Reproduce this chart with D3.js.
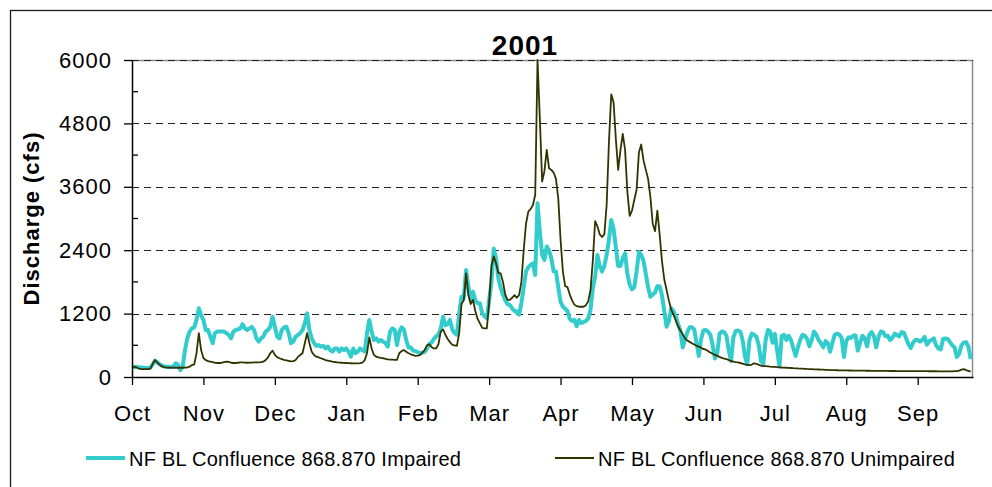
<!DOCTYPE html>
<html>
<head>
<meta charset="utf-8">
<script src="https://cdn.jsdelivr.net/npm/d3@7"></script>
<style>
  body { margin: 0; background: #fff; }
  svg { display: block; font-family: Arial, "Liberation Sans", sans-serif; }
</style>
</head>
<body>
<div id="my_dataviz"></div>
<script>

// daily discharge (cfs), one value per day starting 1 Oct 2000
var impaired = [
  // Oct
  190,195,190,185,180,175,170,170,180,240, 310,280,240,215,200,195,190,190,200,260, 230,130,200,510,730,860,920,940,1080,1300, 1170,
  // Nov
  1080,890,890,765,640,830,860,860,860,860, 830,795,730,860,890,900,920,1000,920,890, 920,950,890,730,670,730,765,860,890,950,
  // Dec
  1140,950,765,730,890,940,950,830,640,670, 765,795,830,890,1015,1205,890,730,640,590, 605,575,590,540,575,510,480,540,540,480, 540,
  // Jan
  510,540,480,385,540,450,480,540,510,480, 830,1080,860,700,730,670,700,670,640,575, 860,920,890,605,850,940,900,700,560,560, 500,
  // Feb
  490,470,450,460,470,540,620,650,720,770, 800,920,1140,980,1000,1080,900,830,800,1200, 1520,1500,2025,1710,1450,1615,1450,1395,
  // Mar
  1395,1205,1150,1110,1450,1800,2430,2250,1870,1690, 1560,1450,1380,1360,1300,1250,1240,1180,1400,1700, 1995,2080,2120,2150,1930,3290,2750,2310,2215,2470, 2400,
  // Apr
  2245,2000,1995,1700,1420,1330,1290,1250,1100,1060, 1080,960,1080,1020,1040,1060,1110,1270,1680,1900, 2310,2100,1995,2100,2310,2600,2970,2800,2450,2100,
  // May
  2100,2250,2340,1950,1750,1660,1700,2000,2370,2310, 2200,1950,1700,1520,1560,1600,1720,1720,1550,1250, 950,1050,1300,1250,1150,1000,880,560,700,850, 940,
  // Jun
  940,900,650,400,720,880,890,860,800,600, 350,450,820,860,850,780,500,300,750,870, 880,860,700,400,240,700,820,800,760,600,
  // Jul
  300,250,700,890,860,650,820,500,200,780, 800,700,780,700,550,400,560,700,800,780, 720,580,700,860,800,700,640,560,680,640, 480,
  // Aug
  650,800,820,800,740,380,680,750,740,780, 790,500,650,780,730,580,800,850,770,560, 760,860,850,770,780,700,740,820,790,770, 850,
  // Sep
  840,730,620,550,650,700,700,670,700,760, 610,680,700,730,600,540,520,720,730,720, 660,600,560,380,440,600,650,660,580,340
];

var unimpaired = [
  // Oct
  195,190,180,160,150,150,150,150,160,250, 320,270,230,200,185,180,178,176,175,175, 175,175,175,178,180,195,225,240,450,830, 510,
  // Nov
  360,320,300,290,280,270,265,265,270,280, 290,285,270,265,265,270,275,275,272,270, 272,272,275,275,278,280,290,320,370,450,
  // Dec
  500,420,375,355,340,325,315,305,295,300, 320,380,415,450,640,830,640,480,415,385, 370,355,340,320,310,300,290,284,278,272, 270,
  // Jan
  268,265,262,260,258,258,258,262,270,320, 450,750,540,415,385,370,360,355,345,335, 330,330,325,325,450,490,510,480,450,430, 415,
  // Feb
  400,405,415,460,510,600,620,570,540,540, 620,860,900,800,720,660,610,600,590,830, 1380,1450,1960,1550,1380,1460,1250,1100,
  // Mar
  1015,930,920,920,1400,2100,2280,2150,1970,1960, 1800,1560,1460,1460,1500,1550,1500,1550,1800,2400, 2900,3130,3180,3250,3450,6000,4900,3700,3900,4300, 3950,
  // Apr
  3920,3870,3750,3380,2600,2000,1720,1700,1560,1450, 1370,1340,1330,1330,1330,1360,1430,1650,2200,2950, 2850,2700,2650,2700,3255,4450,5350,5200,4500,3920,
  // May
  4300,4600,4300,3500,3050,3150,3350,3550,4250,4400, 4100,3920,3750,3400,2900,2760,3150,2700,2200,1850, 1650,1450,1280,1180,1070,960,880,810,730,690, 665,
  // Jun
  640,615,590,575,555,530,520,490,465,440, 420,400,380,360,350,340,320,305,290,280, 275,265,255,240,230,225,235,260,250,230,
  // Jul
  215,208,204,200,196,193,190,186,183,180, 178,175,172,170,167,165,162,160,158,155, 152,150,148,146,144,142,140,138,136,134, 132,
  // Aug
  130,129,128,127,126,125,124,123,123,122, 121,120,120,119,119,118,118,117,117,116, 116,116,115,115,115,114,114,114,113,113, 113,
  // Sep
  113,112,112,112,111,111,111,110,110,110, 110,109,109,109,109,108,108,108,108,108, 108,108,110,112,120,140,150,130,115,100
];

var monthLabels = ["Oct","Nov","Dec","Jan","Feb","Mar","Apr","May","Jun","Jul","Aug","Sep"];
var yTicks = [0, 1200, 2400, 3600, 4800, 6000];
var yMinorTicks = [600, 1800, 3000, 4200, 5400];
var seriesNames = ["NF BL Confluence 868.870 Impaired", "NF BL Confluence 868.870 Unimpaired"];
var seriesColors = ["#33cccc", "#333300"];

// set the dimensions and margins of the graph
var margin = {top: 60, right: 19, bottom: 110, left: 132},
  width = 992 - margin.left - margin.right,
  height = 487 - margin.top - margin.bottom;

var root = d3.select("#my_dataviz")
.append("svg")
  .attr("width", 992)
  .attr("height", 487);

// outer chart border
root.append("rect")
  .attr("x", 10.5)
  .attr("y", 10.5)
  .attr("width", 1000)
  .attr("height", 500)
  .style("fill", "none")
  .style("stroke", "#1a1a1a")
  .style("stroke-width", 1.3);

var svg = root.append("g")
  .attr("transform", "translate(" + margin.left + "," + margin.top + ")");

// scales: x is day of the water year, ticks every 31 days
var x = d3.scaleLinear()
  .domain([0, 365])
  .range([0, width]);
var y = d3.scaleLinear()
  .domain([0, 6000])
  .range([height, 0]);

// plot frame (top + right) in grey
svg.append("path")
  .attr("d", "M0,0.5H" + (width - 0.5) + "V" + height)
  .style("fill", "none")
  .style("stroke", "#8c8c8c")
  .style("stroke-width", 1.5);

// dashed gridlines
svg.selectAll(".grid")
  .data(yTicks.filter(function(d) { return d > 0; }))
  .enter()
  .append("line")
    .attr("x1", 0)
    .attr("x2", width)
    .attr("y1", function(d) { return Math.round(y(d)) + 0.5; })
    .attr("y2", function(d) { return Math.round(y(d)) + 0.5; })
    .style("stroke", "#222")
    .style("stroke-width", 1)
    .style("stroke-dasharray", "7,5");

// series lines
var line = d3.line()
  .x(function(d, i) { return x(i); })
  .y(function(d) { return y(d); });

svg.append("path")
  .datum(impaired)
  .attr("d", line)
  .style("fill", "none")
  .style("stroke", seriesColors[0])
  .style("stroke-width", 4)
  .style("stroke-linejoin", "round");

svg.append("path")
  .datum(unimpaired)
  .attr("d", line)
  .style("fill", "none")
  .style("stroke", seriesColors[1])
  .style("stroke-width", 1.8)
  .style("stroke-linejoin", "round");

// Y axis
var yAxis = svg.append("g")
  .style("font-size", "22px")
  .style("font-family", "Arial, 'Liberation Sans', sans-serif")
  .call(d3.axisLeft(y).tickValues(yTicks).tickFormat(d3.format("d"))
    .tickSize(8).tickSizeOuter(0).tickPadding(12));
yAxis.selectAll("text").style("letter-spacing", "1px").style("fill", "#000");
yAxis.selectAll("line").style("stroke", "#000").style("stroke-width", 1.3);
yAxis.select(".domain").style("stroke", "#000").style("stroke-width", 1.5);

// minor ticks pointing inward
svg.selectAll(".minor")
  .data(yMinorTicks)
  .enter()
  .append("line")
    .attr("x1", 0)
    .attr("x2", 6)
    .attr("y1", function(d) { return y(d); })
    .attr("y2", function(d) { return y(d); })
    .style("stroke", "#000")
    .style("stroke-width", 1.3);

// X axis
var xAxis = svg.append("g")
  .attr("transform", "translate(0," + height + ")")
  .style("font-size", "22px")
  .style("font-family", "Arial, 'Liberation Sans', sans-serif")
  .call(d3.axisBottom(x)
    .tickValues(d3.range(0, 365, 31))
    .tickFormat(function(d) { return monthLabels[d / 31]; })
    .tickSize(8).tickSizeOuter(0).tickPadding(20));
xAxis.selectAll("text").style("letter-spacing", "1px").style("fill", "#000");
xAxis.selectAll("line").style("stroke", "#000").style("stroke-width", 1.3);
xAxis.select(".domain").style("stroke", "#000").style("stroke-width", 1.5);

// title
root.append("text")
  .attr("x", 525)
  .attr("y", 55)
  .attr("text-anchor", "middle")
  .style("font-size", "28px")
  .style("font-weight", "bold")
  .style("letter-spacing", "1px")
  .text("2001");

// y axis title
root.append("text")
  .attr("transform", "translate(39," + (margin.top + height / 2) + ") rotate(-90)")
  .attr("text-anchor", "middle")
  .style("font-size", "22px")
  .style("font-weight", "bold")
  .style("letter-spacing", "1px")
  .text("Discharge (cfs)");

// legend
var legendX = [86, 555];
var legend = root.selectAll(".legend")
  .data(seriesNames)
  .enter()
  .append("g")
    .attr("transform", function(d, i) { return "translate(" + legendX[i] + ",458)"; });
legend.append("line")
  .attr("x1", 0)
  .attr("x2", 39)
  .style("stroke", function(d, i) { return seriesColors[i]; })
  .style("stroke-width", function(d, i) { return i === 0 ? 4 : 2; });
legend.append("text")
  .attr("x", 43)
  .attr("y", 8)
  .style("font-size", "20px")
  .style("letter-spacing", "0.25px")
  .text(function(d) { return d; });

</script>
</body>
</html>
